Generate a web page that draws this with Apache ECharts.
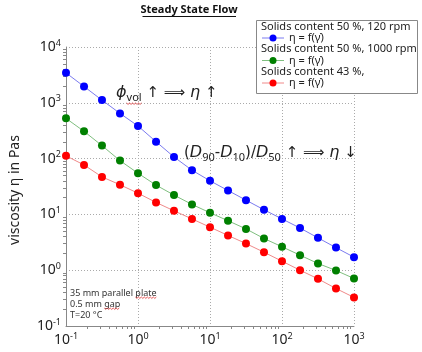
<!DOCTYPE html>
<html><head><meta charset="utf-8">
<script src="https://cdn.jsdelivr.net/npm/echarts@6/dist/echarts.min.js"></script>
<style>html,body{margin:0;padding:0;background:#fff}#c{width:422px;height:352px}</style>
</head><body><div id="c"></div>
<script>
const shearRates = [0.1,0.178,0.316,0.562,1,1.78,3.16,5.62,10,17.8,31.6,56.2,100,178,316,562,1000];
const eta50_120 = [3440,1960,1117,646,384,201,107,62,40,26.8,18,12.1,8.3,5.7,3.8,2.54,1.71];
const eta50_1000 = [526,308,171,92,54.7,33.5,22.2,15.1,10.7,7.7,5.5,3.7,2.63,1.86,1.32,0.99,0.71];
const eta43 = [112,77,47,34,24,16.4,11.6,8.3,5.9,4.2,3.0,2.1,1.45,1.0,0.70,0.47,0.325];
const seriesNames = ['Solids content 50 %, 120 rpm','Solids content 50 %, 1000 rpm','Solids content 43 %,'];
const itemLabel = 'η = f(γ̇)';
const titleText = 'Steady State Flow';
const yAxisName = 'viscosity η in Pas';
const noteLines = ['35 mm parallel plate','0.5 mm gap','T=20 °C'];

const F = 'Noto Sans, sans-serif';
const ctx = document.createElement('canvas').getContext('2d');
function tw(t, font){ ctx.font = font; return ctx.measureText(t).width; }
function pairs(ys){ return shearRates.map((x,i)=>[x, ys[i]]); }
function powLabel(v){ const e = Math.round(Math.log10(v)); return '{b|10}{s|' + e + '}'; }
const richLab = { b:{fontSize:14, fontFamily:F, color:'#222'}, s:{fontSize:9, fontFamily:F, color:'#222', verticalAlign:'top', padding:[0,0,8,0]} };

const marker = ['#0000ff','#008000','#ff0000'];
const lineC = ['#7b7bf0','#7fbf7f','#f08a8a'];
const data = [eta50_120, eta50_1000, eta43];

function squiggle(x0,x1,y){ const pts=[]; let up=true; for(let x=x0;x<=x1;x+=1.5){pts.push([x,y+(up?0:1.4)]); up=!up;} return {type:'polyline',shape:{points:pts},style:{stroke:'#e03030',lineWidth:0.8,fill:null},z:20}; }

const graphics = [
  {type:'text', style:{text:titleText, x:189, y:4, font:'bold 11px '+F, fill:'#111', textAlign:'center'}, z:10},
  {type:'line', shape:{x1:142.5,y1:16.5,x2:236,y2:16.5}, style:{stroke:'#111',lineWidth:1}},
  {type:'text', style:{text:yAxisName, x:0, y:0, font:'14px '+F, fill:'#222', textAlign:'center', textVerticalAlign:'middle'}, x:15, y:190, rotation:Math.PI/2},
  {type:'rect', shape:{x:256.5,y:20.5,width:161,height:73}, style:{fill:'#fff', stroke:'#888', lineWidth:1}, z:10},
];
const LF = '11px '+F;
for(let i=0;i<3;i++){
  const y0 = 26.5 + i*22.5;
  graphics.push({type:'text', style:{text:seriesNames[i], x:261, y:y0, font:LF, fill:'#222', textVerticalAlign:'middle'}, z:11});
  graphics.push({type:'line', shape:{x1:262,y1:y0+11.5,x2:284,y2:y0+11.5}, style:{stroke:lineC[i],lineWidth:1}, z:11});
  graphics.push({type:'circle', shape:{cx:273,cy:y0+11.5,r:3.5}, style:{fill:marker[i]}, z:12});
  graphics.push({type:'text', style:{text:itemLabel, x:289, y:y0+11.5, font:LF, fill:'#222', textVerticalAlign:'middle'}, z:11});
}
const NF = '9px '+F;
noteLines.forEach((t,i)=>graphics.push({type:'text', style:{text:t, x:70, y:293+i*11, font:NF, fill:'#333', textVerticalAlign:'middle'}, z:11}));
// spell-check squiggles
{
  const w0 = tw('35 mm parallel ', NF), w1 = tw('35 mm parallel plate', NF);
  graphics.push(squiggle(70+w0, 70+w1, 297));
  const g0 = tw('0.5 mm ', NF), g1 = tw('0.5 mm gap', NF);
  graphics.push(squiggle(70+g0, 70+g1, 308));
}
const annRich = {
  i:{fontSize:16, fontStyle:'italic', fontFamily:'DejaVu Sans', fill:'#222'},
  n:{fontSize:15, fontFamily:'DejaVu Sans', fill:'#222'},
  sub:{fontSize:11, fontFamily:F, fill:'#222', padding:[9,0,0,0]}
};
graphics.push({type:'text', style:{text:'{i|ϕ}{sub|vol}{n| ↑ ⟹ }{i|η}{n| ↑}', rich:annRich, x:116, y:93, textVerticalAlign:'middle'}, z:11});
{
  const pw = tw('ϕ', 'italic 16px DejaVu Sans'), vw = tw('vol', '11px '+F);
  graphics.push(squiggle(116+pw, 116+pw+vw, 103));
}
graphics.push({type:'text', style:{text:'{n|(}{i|D}{sub|90}{n|-}{i|D}{sub|10}{n|)/}{i|D}{sub|50}{n| ↑ ⟹ }{i|η}{n| ↓}', rich:annRich, x:184, y:153, textVerticalAlign:'middle'}, z:11});

const chart = echarts.init(document.getElementById('c'));
chart.setOption({
  animation:false,
  backgroundColor:'#fff',
  grid:{left:66, right:68, top:47, bottom:26, containLabel:false},
  xAxis:{type:'log', logBase:10, min:0.1, max:1000,
    axisLine:{show:true, lineStyle:{color:'#888'}},
    axisTick:{show:false},
    minorTick:{show:true, splitNumber:9, length:3, lineStyle:{color:'#888'}},
    splitLine:{show:true, lineStyle:{type:[1,2], color:'#aaa'}},
    axisLabel:{formatter:powLabel, rich:richLab, margin:6, showMinLabel:true, showMaxLabel:true}},
  yAxis:{type:'log', logBase:10, min:0.1, max:10000,
    axisLine:{show:true, lineStyle:{color:'#888'}},
    axisTick:{show:false},
    minorTick:{show:true, splitNumber:9, length:3, lineStyle:{color:'#888'}},
    splitLine:{show:true, lineStyle:{type:[1,2], color:'#aaa'}},
    axisLabel:{formatter:powLabel, rich:richLab, margin:5, showMinLabel:true, showMaxLabel:true}},
  series: data.map((d,i)=>({type:'line', name:seriesNames[i], data:pairs(d), symbol:'circle', symbolSize:8,
    itemStyle:{color:marker[i]}, lineStyle:{color:lineC[i], width:1}, clip:false, z:3})),
  graphic: graphics
});
</script></body></html>
